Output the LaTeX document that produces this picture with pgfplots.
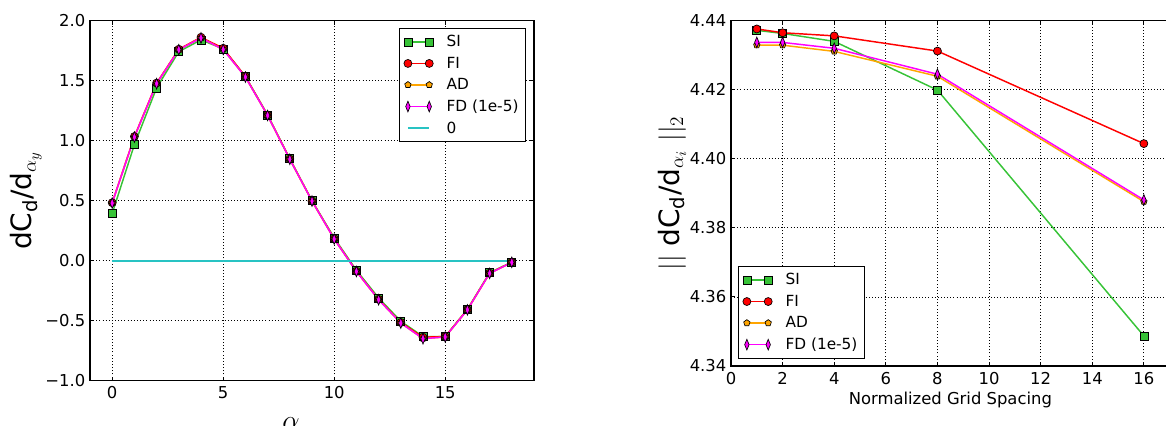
\documentclass[border=0pt]{standalone}
\usepackage{fontspec}
\setmainfont{DejaVu Sans}
\usepackage{pgfplots}
\pgfplotsset{compat=1.18}
\definecolor{sigreen}{RGB}{55,195,55}
\definecolor{fired}{RGB}{255,0,0}
\definecolor{adorange}{RGB}{255,165,0}
\definecolor{fdmag}{RGB}{255,0,255}
\definecolor{zcyan}{RGB}{40,195,195}
\newcommand{\tfont}{\fontsize{11.5}{13}\selectfont}
\newcommand{\kfont}{\fontsize{12.3}{14}\selectfont}
\pgfplotsset{
  mystyle/.style={
    scale only axis,
    /pgf/number format/assume math mode=true,
    tick label style={font=\kfont, black},
    tick align=inside,
    major tick length=3pt,
    tick style={black, line width=0.7pt},
    axis line style={black, line width=0.9pt},
    grid=major,
    grid style={black, line width=0.6pt, dash pattern=on 0.75pt off 1.6pt},
    legend cell align=left,
    legend style={draw=black, line width=0.8pt, fill=white, font=\tfont,
      inner xsep=3pt, inner ysep=3pt, row sep=2.2pt},
    legend image code/.code={\draw[mark repeat=2,mark phase=1,#1] plot coordinates {(0pt,0pt) (8pt,0pt) (16pt,0pt)};},
    /tikz/every odd column/.append style={column sep=8pt},
  },
  sistyle/.style={color=sigreen, line width=1.1pt, mark=square*, mark size=3pt,
    mark options={solid, draw=black, fill=sigreen, line width=0.5pt}},
  fistyle/.style={color=fired, line width=1.1pt, mark=*, mark size=3pt,
    mark options={solid, draw=black, fill=fired, line width=0.5pt}},
  adstyle/.style={color=adorange, line width=1.1pt, mark=pentagon*, mark size=2.5pt,
    mark options={solid, draw=black, fill=adorange, line width=0.5pt}},
  fdstyle/.style={color=fdmag, line width=1.1pt, mark=diamond*, mark size=4pt,
    mark options={solid, draw=black, fill=fdmag, line width=0.5pt, xscale=0.55}},
}
\begin{document}
\begin{tikzpicture}
\useasboundingbox (0pt,0pt) rectangle (874.5pt,-318.75pt);
\clip (0pt,0pt) rectangle (874.5pt,-318.75pt);
% ---------- left axis ----------
\begin{axis}[mystyle,
  at={(67.5pt,-15.5pt)}, anchor=north west,
  width=333pt, height=270pt,
  xmin=-1, xmax=19, ymin=-1, ymax=2,
  xtick={0,5,10,15}, xticklabels={0,5,10,15},
  ytick={-1,-0.5,0,0.5,1,1.5,2},
  yticklabels={−1.0,−0.5,0.0,0.5,1.0,1.5,2.0},
  xticklabel style={yshift=-1pt},
  ylabel={dC\textsubscript{d}/d$_{\alpha_y}$},
  ylabel style={at={(axis description cs:-0.144,0.5)}, anchor=center, font=\fontsize{21}{24}\selectfont},
  xlabel={$\alpha$},
  xlabel style={at={(axis description cs:0.453,-0.089)}, anchor=north, font=\fontsize{21}{24}\selectfont},
  legend style={at={(1,1)}, anchor=north east, xshift=-6.2pt, yshift=-5.5pt},
]
\addplot[sistyle] coordinates {(0,0.394)(1,0.967)(2,1.44)(3,1.742)(4,1.84)(5,1.765)(6,1.535)(7,1.215)(8,0.85)(9,0.5)(10,0.19)(11,-0.08)(12,-0.31)(13,-0.505)(14,-0.632)(15,-0.632)(16,-0.405)(17,-0.10)(18,-0.012)};
\addlegendentry{SI}
\addplot[fistyle] coordinates {(0,0.483)(1,1.035)(2,1.48)(3,1.762)(4,1.862)(5,1.77)(6,1.535)(7,1.212)(8,0.847)(9,0.498)(10,0.183)(11,-0.088)(12,-0.322)(13,-0.515)(14,-0.638)(15,-0.632)(16,-0.408)(17,-0.104)(18,-0.013)};
\addlegendentry{FI}
\addplot[adstyle] coordinates {(0,0.48)(1,1.03)(2,1.475)(3,1.758)(4,1.856)(5,1.76)(6,1.53)(7,1.21)(8,0.845)(9,0.497)(10,0.18)(11,-0.09)(12,-0.325)(13,-0.52)(14,-0.65)(15,-0.636)(16,-0.41)(17,-0.106)(18,-0.014)};
\addlegendentry{AD}
\addplot[fdstyle] coordinates {(0,0.48)(1,1.03)(2,1.475)(3,1.758)(4,1.856)(5,1.76)(6,1.53)(7,1.21)(8,0.845)(9,0.497)(10,0.18)(11,-0.09)(12,-0.325)(13,-0.52)(14,-0.65)(15,-0.636)(16,-0.41)(17,-0.106)(18,-0.014)};
\addlegendentry{FD (1e-5)}
\addplot[color=zcyan, line width=1.6pt, mark=none] coordinates {(0,0)(18,0)};
\addlegendentry{0}
\end{axis}
% ---------- right axis ----------
\begin{axis}[mystyle,
  at={(548.25pt,-15.5pt)}, anchor=north west,
  width=329pt, height=259pt,
  xmin=0, xmax=17, ymin=4.34, ymax=4.44,
  xtick={0,2,4,6,8,10,12,14,16}, xticklabels={0,2,4,6,8,10,12,14,16},
  ytick={4.34,4.36,4.38,4.40,4.42,4.44},
  yticklabels={4.34,4.36,4.38,4.40,4.42,4.44},
  xticklabel style={yshift=-1pt},
  ylabel={$||$ dC\textsubscript{d}/d$_{\alpha_i}$ $||_2$},
  ylabel style={at={(axis description cs:-0.1345,0.5)}, anchor=center, font=\fontsize{21}{24}\selectfont},
  xlabel={Normalized Grid Spacing},
  xlabel style={at={(axis description cs:0.5,-0.0985)}, anchor=center, font=\kfont},
  legend style={at={(0,0)}, anchor=south west, xshift=5.5pt, yshift=5.5pt},
]
\addplot[sistyle] coordinates {(1,4.4372)(2,4.4363)(4,4.4340)(8,4.4199)(16,4.3487)};
\addlegendentry{SI}
\addplot[fistyle] coordinates {(1,4.4376)(2,4.4365)(4,4.4356)(8,4.4312)(16,4.4044)};
\addlegendentry{FI}
\addplot[adstyle] coordinates {(1,4.4329)(2,4.4329)(4,4.4311)(8,4.4239)(16,4.3876)};
\addlegendentry{AD}
\addplot[fdstyle] coordinates {(1,4.4337)(2,4.4337)(4,4.4320)(8,4.4245)(16,4.3881)};
\addlegendentry{FD (1e-5)}
\end{axis}
\end{tikzpicture}
\end{document}
